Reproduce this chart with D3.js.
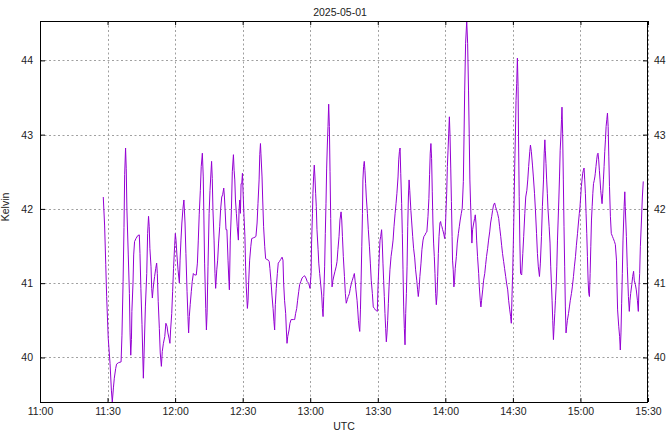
<!DOCTYPE html>
<html><head><meta charset="utf-8">
<script src="https://cdn.jsdelivr.net/npm/d3@7"></script>
<style>
html,body{margin:0;padding:0;background:#fff}
svg{display:block}
text{font-family:"Liberation Sans",Arial,sans-serif;font-size:10.5px;fill:#222}
</style>
</head><body>
<svg id="c" width="667" height="432"></svg>
<script>
const title = "2025-05-01";
const xLabel = "UTC";
const yLabel = "Kelvin";
const startISO = "2025-05-01T11:00:00Z";
const endISO = "2025-05-01T15:30:00Z";
const yTicks = [40, 41, 42, 43, 44];
// minutes after 11:00 UTC
const minutes = [
28.1,28.7,29.2,29.6,30.3,31.1,31.7,32.1,32.6,33.0,33.6,34.0,34.9,36.0,36.4,36.9,37.3,37.6,38.0,38.3,38.6,39.2,39.7,40.0,40.3,40.6,40.8,41.3,41.6,42.0,42.6,43.4,44.1,44.4,44.8,45.3,45.9,46.3,46.8,47.4,47.8,48.2,48.5,48.8,49.3,49.6,49.9,50.2,50.5,50.9,51.4,51.8,52.1,52.5,53.0,53.4,53.9,54.3,54.8,55.4,55.9,56.4,56.8,57.3,57.7,58.0,58.5,58.9,59.3,59.8,60.1,60.4,60.8,61.3,61.9,62.2,62.6,63.0,63.5,63.9,64.4,64.8,65.3,65.7,66.0,66.3,66.7,67.2,67.6,68.1,68.7,69.4,69.9,70.3,70.7,71.2,71.6,72.1,
72.5,72.8,73.1,73.6,73.9,74.2,74.6,75.1,75.5,76.2,76.5,76.8,77.3,77.7,78.0,78.5,78.9,79.3,79.8,80.2,80.7,81.1,81.6,81.9,82.2,82.6,83.0,83.5,83.9,84.1,84.5,85.0,85.4,85.9,86.2,86.5,86.8,87.2,87.6,88.1,88.4,88.7,89.0,89.3,89.6,89.9,90.2,90.6,91.0,91.3,91.6,92.1,92.4,92.7,93.1,93.6,94.0,94.7,95.5,95.9,96.4,96.8,97.3,97.6,97.9,98.1,98.6,98.9,99.3,99.8,100.2,100.7,101.4,101.8,102.1,102.6,103.0,103.5,103.9,104.2,104.5,104.9,105.4,105.8,106.3,106.9,107.5,107.9,108.2,108.6,109.1,109.4,109.7,110.0,110.6,111.0,111.5,111.9,112.5,113.1,113.5,114.0,114.4,114.9,115.3,115.8,
116.4,117.0,117.5,118.1,118.7,119.3,119.9,120.4,120.6,121.0,121.2,121.5,121.8,122.1,122.4,122.7,123.0,123.5,123.8,124.2,124.6,125.1,125.4,125.7,126.0,126.4,126.7,127.0,127.3,127.6,127.9,128.2,128.5,128.8,129.1,129.4,129.7,130.1,130.6,131.0,131.5,131.9,132.3,132.8,133.2,133.7,134.0,134.3,134.7,135.2,135.6,136.0,136.5,136.9,137.4,137.8,138.3,138.7,139.2,139.6,139.9,140.3,140.8,141.1,141.4,141.7,142.0,142.3,142.6,142.9,143.2,143.4,143.7,144.0,144.3,144.6,144.9,145.4,145.8,146.3,146.7,147.1,147.6,148.0,148.5,148.9,149.4,149.8,150.1,150.4,150.7,151.0,151.3,151.7,152.0,152.3,152.6,152.9,153.2,153.5,153.8,154.1,154.4,154.7,155.0,155.4,155.9,156.3,156.8,157.2,157.7,158.1,158.5,159.0,159.3,159.6,159.9,160.2,160.6,160.9,161.2,161.5,161.8,162.1,162.4,162.7,163.0,163.3,163.6,163.9,164.2,
164.7,165.0,165.5,165.9,166.4,166.8,167.3,167.7,168.0,168.3,168.7,169.2,169.6,170.1,170.5,171.0,171.4,171.8,172.3,172.7,173.0,173.3,173.6,173.9,174.2,174.5,174.8,175.1,175.4,175.7,176.0,176.3,176.6,176.9,177.2,177.6,177.9,178.2,178.5,178.8,179.1,179.4,179.7,180.0,180.3,180.6,180.9,181.2,181.5,181.8,182.1,182.4,182.7,183.0,183.2,183.5,183.8,184.1,184.4,184.9,185.3,185.8,186.2,186.6,187.1,187.5,188.0,188.3,188.6,189.0,189.5,189.9,190.3,190.6,190.9,191.2,191.5,191.8,192.1,192.6,193.0,193.3,193.6,193.9,194.3,194.8,195.1,195.5,195.8,196.1,196.6,197.0,197.5,197.9,198.3,198.8,199.2,199.7,200.1,200.6,201.0,201.4,201.9,202.3,202.8,203.2,203.7,204.1,204.6,205.0,205.4,205.9,206.3,206.8,207.2,207.7,208.1,208.6,209.0,209.3,209.6,209.9,210.2,210.5,210.8,211.1,211.4,211.7,212.0,212.3,212.5,212.8,213.1,213.4,
213.9,214.4,214.8,215.3,215.7,216.2,216.6,217.0,217.5,217.8,218.2,218.7,219.1,219.6,220.0,220.5,220.9,221.3,221.8,222.2,222.7,223.1,223.6,223.9,224.2,224.4,224.7,225.0,225.3,225.6,226.1,226.5,226.8,227.1,227.4,227.7,228.0,228.3,228.6,228.9,229.2,229.5,229.8,230.1,230.4,230.7,231.0,231.3,231.6,231.8,232.1,232.4,232.7,233.0,233.3,233.6,233.9,234.2,234.7,235.1,235.5,236.0,236.4,236.9,237.3,237.8,238.2,238.7,239.1,239.5,239.8,240.1,240.4,240.7,241.0,241.3,241.6,241.9,242.2,242.5,242.8,243.1,243.4,243.7,244.0,244.3,244.6,244.9,245.2,245.5,245.8,246.1,246.4,246.6,246.9,247.2,247.5,247.8,248.1,248.4,248.7,249.0,249.3,249.6,249.9,250.2,250.5,250.8,251.1,251.4,251.7,252.0,252.3,252.6,252.9,253.3,253.7,254.2,254.6,255.1,255.5,256.0,256.2,256.5,257.0,257.4,257.7,258.0,258.3,258.6,258.9,259.4,259.7,259.9,260.4,260.8,261.3,261.7,262.0,262.3,262.8,263.2,263.6,263.9,264.4,264.8,265.3,265.7,266.0,266.3,266.6,267.1,267.5,267.9
];
const kelvin = [
42.16,41.77,41.25,40.82,40.26,39.92,39.56,39.40,39.59,39.72,39.85,39.91,39.93,39.94,40.30,41.02,41.75,42.46,42.82,42.54,41.99,41.38,40.86,40.33,40.03,40.24,40.62,41.00,41.38,41.56,41.60,41.64,41.65,41.40,40.93,40.44,39.72,40.14,40.68,41.13,41.67,41.90,41.76,41.47,41.22,40.93,40.80,40.91,41.00,41.09,41.20,41.27,41.13,40.75,40.39,40.06,39.88,40.08,40.19,40.28,40.46,40.42,40.33,40.26,40.19,40.37,40.59,40.89,41.20,41.51,41.67,41.58,41.38,41.18,41.00,41.31,41.58,41.81,42.01,42.12,41.81,41.40,40.89,40.55,40.33,40.55,40.71,40.89,41.02,41.13,41.11,41.11,41.27,41.58,41.92,42.25,42.57,42.75,
42.43,41.85,41.27,40.66,40.37,40.60,41.22,41.94,42.25,42.64,42.41,41.99,41.58,41.13,40.93,41.18,41.31,41.54,41.76,41.99,42.16,42.19,42.28,42.16,41.99,41.72,41.72,41.31,41.02,40.91,41.58,41.99,42.50,42.73,42.52,42.39,42.12,41.94,41.76,41.58,41.99,42.12,41.94,42.34,42.34,42.48,42.21,41.90,41.63,41.22,40.95,40.66,40.77,41.04,41.31,41.49,41.60,41.61,41.62,41.63,41.81,42.07,42.39,42.73,42.88,42.75,42.43,42.12,41.76,41.49,41.33,41.32,41.31,41.29,41.20,41.02,40.84,40.66,40.48,40.37,40.71,40.93,41.13,41.27,41.29,41.32,41.35,41.31,41.00,40.77,40.59,40.37,40.19,40.28,40.37,40.46,40.51,40.51,40.51,40.51,40.59,40.66,40.77,40.89,40.98,41.02,
41.07,41.09,41.10,41.07,41.02,41.00,40.93,41.13,41.54,41.94,42.21,42.43,42.59,42.43,42.21,42.03,41.72,41.45,41.27,41.13,41.00,40.84,40.66,40.55,40.82,41.22,41.67,42.07,42.55,42.86,43.11,43.41,43.11,42.50,41.87,41.27,40.95,41.04,41.11,41.16,41.22,41.29,41.45,41.63,41.85,41.96,41.85,41.63,41.36,41.09,40.86,40.73,40.78,40.82,40.86,40.93,41.00,41.04,41.09,41.13,41.04,40.91,40.77,40.64,40.50,40.41,40.35,40.64,41.04,41.49,41.94,42.39,42.57,42.64,42.52,42.34,42.16,41.94,41.72,41.49,41.27,41.04,40.86,40.68,40.66,40.64,40.63,40.62,40.95,41.18,41.40,41.58,41.63,41.72,41.54,41.27,41.04,40.82,40.59,40.39,40.21,40.33,40.50,40.73,40.95,41.18,41.36,41.45,41.58,41.76,41.94,42.07,42.21,42.43,42.66,42.77,42.82,42.48,42.07,41.67,41.18,40.68,40.39,40.17,40.59,40.86,41.22,41.76,42.16,42.39,42.25,
41.98,41.85,41.63,41.47,41.34,41.18,41.04,40.91,40.82,40.91,41.09,41.27,41.45,41.58,41.63,41.65,41.68,41.69,41.90,42.14,42.46,42.75,42.88,42.68,42.23,41.81,41.54,41.36,41.13,40.86,40.71,40.84,41.09,41.40,41.63,41.81,41.83,41.78,41.76,41.72,41.69,41.65,41.60,41.72,41.98,42.21,42.57,42.79,43.02,43.24,42.97,42.55,42.10,41.63,41.31,41.18,40.95,41.04,41.20,41.36,41.54,41.67,41.76,41.85,41.94,42.01,42.37,42.97,43.60,44.23,44.53,44.23,43.60,43.02,42.39,42.08,41.81,41.54,41.72,41.81,41.87,41.92,41.81,41.58,41.36,41.13,40.95,40.77,40.68,40.77,40.91,41.04,41.13,41.25,41.36,41.47,41.58,41.69,41.81,41.90,41.98,42.05,42.08,42.03,41.98,41.94,41.87,41.76,41.63,41.51,41.40,41.29,41.20,41.09,41.00,40.91,40.77,40.64,40.55,40.46,40.82,41.13,41.54,41.98,42.57,42.97,43.46,43.69,44.03,43.65,42.97,42.17,41.54,41.13,
41.11,41.40,41.63,41.94,42.16,42.25,42.39,42.57,42.77,42.86,42.77,42.59,42.43,42.21,41.99,41.67,41.40,41.22,41.09,41.27,41.63,42.03,42.39,42.75,42.93,42.79,42.61,42.39,42.21,41.99,41.76,41.54,41.22,41.00,40.77,40.50,40.24,40.42,40.59,40.77,40.95,41.22,41.58,41.85,42.12,42.43,42.79,42.97,43.20,43.37,43.02,42.39,41.76,41.22,40.68,40.33,40.42,40.50,40.59,40.68,40.77,40.86,40.95,41.09,41.22,41.36,41.51,41.67,41.81,41.94,42.03,42.16,42.30,42.39,42.48,42.52,42.55,42.39,42.21,41.94,41.67,41.36,41.04,40.86,40.82,41.13,41.49,41.85,42.03,42.21,42.34,42.38,42.43,42.48,42.57,42.66,42.73,42.75,42.66,42.52,42.39,42.25,42.16,42.07,42.21,42.39,42.57,42.77,42.93,43.11,43.20,43.29,43.11,42.70,42.30,41.90,41.67,41.63,41.60,41.56,41.52,41.31,41.00,40.64,40.42,40.28,40.10,40.33,40.73,41.13,41.58,42.03,42.23,42.03,41.63,41.22,40.82,40.62,40.77,40.86,40.98,41.09,41.16,41.04,40.98,40.91,40.77,40.62,40.95,41.13,41.49,41.85,42.16,42.37
];

const W = 667, H = 432;
const L = 40, R = 648, T = 21, B = 402;
const svg = d3.select("#c");
const t0 = new Date(startISO), t1 = new Date(endISO);
const data = minutes.map((m, i) => ({ t: new Date(+t0 + m * 60000), v: kelvin[i] }));

const x = d3.scaleUtc().domain([t0, t1]).range([L, R]);
const y = d3.scaleLinear().domain(d3.extent(kelvin)).range([B, T]);
const xTicks = d3.utcMinute.every(30).range(t0, new Date(+t1 + 1));
const fmt = d3.utcFormat("%H:%M");

// grid
const grid = svg.append("g").attr("stroke", "#a0a0a0").attr("stroke-width", 1).attr("stroke-dasharray", "2,2.5");
grid.selectAll("line.v").data(xTicks).join("line")
  .attr("x1", d => Math.round(x(d)) + 0.5).attr("x2", d => Math.round(x(d)) + 0.5)
  .attr("y1", T).attr("y2", B);
grid.selectAll("line.h").data(yTicks).join("line")
  .attr("x1", L).attr("x2", R)
  .attr("y1", d => Math.round(y(d)) + 0.5).attr("y2", d => Math.round(y(d)) + 0.5);

// data line
svg.append("path").datum(data)
  .attr("fill", "none").attr("stroke", "#9400d3").attr("stroke-width", 1)
  .attr("d", d3.line().x(d => x(d.t)).y(d => y(d.v)));

function styleAxis(g) {
  g.select(".domain").remove();
  g.selectAll(".tick line").attr("stroke", "#000");
  g.selectAll("text").attr("font-family", null).attr("font-size", null).style("fill", "#222");
  g.attr("font-family", null).attr("font-size", null);
}
svg.append("g").attr("transform", `translate(0,${B})`)
  .call(d3.axisBottom(x).tickValues(xTicks).tickFormat(fmt).tickSize(-4).tickPadding(6)).call(styleAxis);
svg.append("g").attr("transform", `translate(0,${T})`)
  .call(d3.axisTop(x).tickValues(xTicks).tickFormat("").tickSize(-4)).call(styleAxis);
svg.append("g").attr("transform", `translate(${L},0)`)
  .call(d3.axisLeft(y).tickValues(yTicks).tickFormat(d3.format("d")).tickSize(-5).tickPadding(7)).call(styleAxis);
svg.append("g").attr("transform", `translate(${R},0)`)
  .call(d3.axisRight(y).tickValues(yTicks).tickFormat(d3.format("d")).tickSize(-5).tickPadding(6)).call(styleAxis);

// border
svg.append("rect").attr("x", L + 0.5).attr("y", T + 0.5).attr("width", R - L - 1).attr("height", B - T)
  .attr("fill", "none").attr("stroke", "#000").attr("stroke-width", 1);

svg.append("text").attr("x", 340).attr("y", 16).attr("text-anchor", "middle").text(title);
svg.append("text").attr("x", (L + R) / 2).attr("y", 430).attr("text-anchor", "middle").text(xLabel);
svg.append("text").attr("transform", "translate(9,207) rotate(-90)").attr("text-anchor", "middle").text(yLabel);
</script>
</body></html>
